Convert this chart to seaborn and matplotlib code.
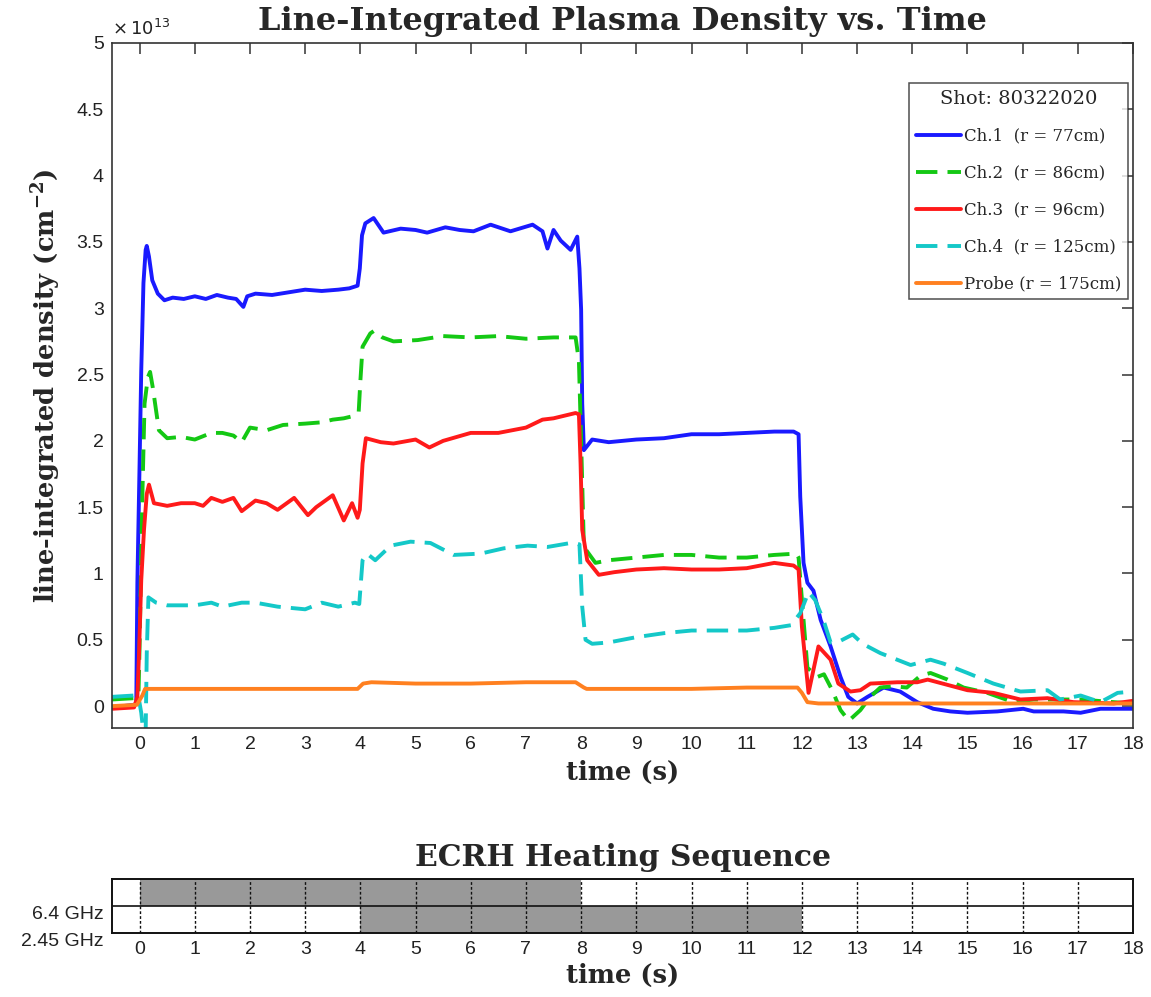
import numpy as np
import pandas as pd
import matplotlib
matplotlib.use("Agg")
import matplotlib.pyplot as plt
import seaborn as sns

# ---------------------------------------------------------------
# Interferometer / probe line-integrated density, units of 1e13 cm^-2
# ---------------------------------------------------------------
ch1_t = [-0.5, -0.1, -0.06, -0.04, 0.0, 0.03, 0.07, 0.11, 0.13, 0.17, 0.23, 0.33, 0.45, 0.6, 0.8,
         1.0, 1.2, 1.4, 1.6, 1.75, 1.88, 1.95, 2.1, 2.4, 2.7, 3.0, 3.3, 3.6, 3.8, 3.95, 3.99,
         4.03, 4.09, 4.24, 4.42, 4.73, 5.0, 5.21, 5.54, 5.8, 6.05, 6.36, 6.72, 7.12, 7.3, 7.39,
         7.5, 7.63, 7.81, 7.93, 7.97, 8.0, 8.02, 8.05, 8.2, 8.5, 9.0, 9.5, 10.0, 10.5, 11.0,
         11.5, 11.85, 11.94, 11.97, 12.03, 12.1, 12.21, 12.34, 12.52, 12.7, 12.84, 13.0, 13.19,
         13.48, 13.78, 14.09, 14.38, 14.69, 15.0, 15.54, 16.01, 16.2, 16.74, 17.05, 17.41, 18.0]
ch1_n = [-0.01, 0.01, 0.02, 0.93, 1.83, 2.53, 3.19, 3.44, 3.47, 3.39, 3.21, 3.11, 3.06, 3.08, 3.07,
         3.09, 3.07, 3.10, 3.08, 3.07, 3.01, 3.09, 3.11, 3.10, 3.12, 3.14, 3.13, 3.14, 3.15, 3.17, 3.30,
         3.55, 3.64, 3.68, 3.57, 3.60, 3.59, 3.57, 3.61, 3.59, 3.58, 3.63, 3.58, 3.63, 3.58, 3.45,
         3.59, 3.51, 3.44, 3.54, 3.30, 2.99, 2.28, 1.93, 2.01, 1.99, 2.01, 2.02, 2.05, 2.05, 2.06,
         2.07, 2.07, 2.05, 1.58, 1.08, 0.93, 0.87, 0.65, 0.45, 0.22, 0.07, 0.02, 0.07,
         0.14, 0.11, 0.03, -0.02, -0.04, -0.05, -0.04, -0.02, -0.04, -0.04, -0.05, -0.02, -0.02]

ch2_t = [-0.5, -0.1, -0.02, 0.0, 0.05, 0.09, 0.15, 0.19, 0.24, 0.35, 0.5, 0.75, 1.0, 1.3, 1.5, 1.7,
         1.85, 2.0, 2.3, 2.6, 3.0, 3.3, 3.5, 3.7, 3.9, 3.97, 4.0, 4.04, 4.18, 4.25, 4.4, 4.6, 5.04,
         5.5, 6.0, 6.5, 7.0, 7.5, 7.9, 7.96, 8.0, 8.05, 8.26, 8.5, 9.0, 9.5, 10.0, 10.5, 11.0, 11.5,
         11.9, 11.94, 12.03, 12.1, 12.28, 12.4, 12.55, 12.7, 12.85, 13.06, 13.24, 13.42, 13.66,
         13.9, 14.15, 14.33, 14.64, 14.93, 15.36, 15.83, 16.2, 16.63, 17.05, 17.65, 18.0]
ch2_n = [0.05, 0.06, 0.08, 0.45, 1.58, 2.28, 2.48, 2.52, 2.40, 2.08, 2.02, 2.03, 2.01, 2.06, 2.06, 2.04,
         1.99, 2.10, 2.08, 2.12, 2.13, 2.14, 2.16, 2.17, 2.19, 2.22, 2.45, 2.71, 2.81, 2.83, 2.78, 2.75, 2.76,
         2.79, 2.78, 2.79, 2.77, 2.78, 2.78, 2.60, 2.00, 1.20, 1.08, 1.10, 1.12, 1.14, 1.14, 1.12, 1.12, 1.14,
         1.15, 1.12, 0.65, 0.29, 0.22, 0.24, 0.12, -0.03, -0.11, -0.03, 0.07, 0.14, 0.15,
         0.14, 0.23, 0.25, 0.20, 0.14, 0.10, 0.03, 0.05, 0.05, 0.05, 0.03, 0.02]

ch3_t = [-0.5, -0.1, -0.04, -0.01, 0.03, 0.08, 0.13, 0.17, 0.26, 0.5, 0.75, 1.0, 1.15, 1.3, 1.5, 1.7,
         1.85, 2.1, 2.3, 2.5, 2.8, 3.05, 3.2, 3.5, 3.7, 3.85, 3.95, 3.99, 4.04, 4.1, 4.37, 4.6, 5.0,
         5.25, 5.5, 6.0, 6.5, 7.0, 7.3, 7.5, 7.9, 7.96, 7.99, 8.02, 8.11, 8.32, 8.6, 9.0, 9.5, 10.0,
         10.5, 11.0, 11.5, 11.85, 11.94, 12.0, 12.12, 12.3, 12.52, 12.66, 12.88, 13.06, 13.24, 13.73,
         14.09, 14.28, 14.64, 15.0, 15.47, 15.96, 16.45, 16.92, 17.65, 18.0]
ch3_n = [-0.02, -0.01, 0.07, 0.40, 0.95, 1.33, 1.60, 1.67, 1.53, 1.51, 1.53, 1.53, 1.51, 1.57, 1.54, 1.57,
         1.47, 1.55, 1.53, 1.48, 1.57, 1.44, 1.50, 1.59, 1.40, 1.53, 1.42, 1.48, 1.83, 2.02, 1.99, 1.98, 2.01,
         1.95, 2.00, 2.06, 2.06, 2.10, 2.16, 2.17, 2.21, 2.20, 1.83, 1.33, 1.10, 0.99, 1.01, 1.03, 1.04, 1.03,
         1.03, 1.04, 1.08, 1.06, 1.03, 0.60, 0.10, 0.45, 0.35, 0.17, 0.11, 0.12, 0.17, 0.18,
         0.18, 0.20, 0.16, 0.12, 0.10, 0.05, 0.06, 0.03, 0.02, 0.04]

ch4_t = [-0.5, -0.1, -0.02, 0.03, 0.07, 0.11, 0.13, 0.16, 0.3, 0.5, 1.0, 1.3, 1.5, 1.85, 2.1, 2.5,
         3.0, 3.3, 3.6, 3.9, 3.98, 4.04, 4.12, 4.27, 4.55, 4.91, 5.27, 5.69, 6.18, 6.6, 7.03, 7.39,
         7.81, 7.97, 8.02, 8.08, 8.2, 8.5, 9.0, 9.5, 10.0, 10.5, 11.0, 11.5, 11.8, 11.97, 12.12,
         12.24, 12.39, 12.52, 12.64, 12.92, 13.1, 13.42, 13.97, 14.33, 14.57, 15.0, 15.47, 15.96,
         16.45, 16.68, 17.05, 17.41, 17.72, 18.0]
ch4_n = [0.07, 0.08, 0.07, -0.05, -0.20, -0.20, 0.40, 0.82, 0.78, 0.76, 0.76, 0.78, 0.75, 0.78, 0.78, 0.75,
         0.73, 0.78, 0.75, 0.78, 0.77, 1.10, 1.15, 1.10, 1.21, 1.24, 1.23, 1.14, 1.15, 1.19, 1.21, 1.20,
         1.23, 1.22, 0.75, 0.50, 0.47, 0.48, 0.52, 0.55, 0.57, 0.57, 0.57, 0.59, 0.61, 0.70, 0.86,
         0.80, 0.65, 0.48, 0.48, 0.54, 0.47, 0.40, 0.31, 0.35, 0.32, 0.25, 0.17, 0.11,
         0.12, 0.05, 0.08, 0.03, 0.10, 0.11]

probe_t = [-0.5, -0.05, 0.05, 0.1, 0.5, 1.5, 2.5, 3.5, 3.95, 4.05, 4.2, 5.0, 6.0, 7.0, 7.9, 8.05,
           8.1, 9.0, 10.0, 11.0, 11.92, 12.0, 12.1, 12.3, 18.0]
probe_n = [0.00, 0.01, 0.08, 0.13, 0.13, 0.13, 0.13, 0.13, 0.13, 0.17, 0.18, 0.17, 0.17, 0.18, 0.18, 0.14,
           0.13, 0.13, 0.13, 0.14, 0.14, 0.10, 0.03, 0.02, 0.02]

series_labels = ["Ch.1  (r = 77cm)", "Ch.2  (r = 86cm)", "Ch.3  (r = 96cm)",
                 "Ch.4  (r = 125cm)", "Probe (r = 175cm)"]
series_colors = ["#1a1aff", "#14c814", "#ff1a1a", "#14c8c8", "#ff8020"]
series_dashed = [False, True, False, True, False]
shot_number = "80322020"

# ECRH heating windows (s)
sources = ["6.4 GHz", "2.45 GHz"]
source_on = [0, 4]
source_off = [8, 12]

time_ticks = list(range(0, 19))
density_ticks = [0, 0.5, 1, 1.5, 2, 2.5, 3, 3.5, 4, 4.5, 5]

# ---------------------------------------------------------------
sns.set_theme(style="white")
plt.rcParams["font.family"] = ["Liberation Sans", "DejaVu Sans"]
plt.rcParams["mathtext.fontset"] = "dejavuserif"

fig = plt.figure(figsize=(11.51, 9.97), dpi=100)
ax = fig.add_axes([0.0973, 0.2698, 0.8871, 0.6871])
axh = fig.add_axes([0.0973, 0.0642, 0.8871, 0.0542])

serif = "DejaVu Serif"

series = [(ch1_t, ch1_n), (ch2_t, ch2_n), (ch3_t, ch3_n), (ch4_t, ch4_n), (probe_t, probe_n)]
for (t, n), lab, col, dashed in zip(series, series_labels, series_colors, series_dashed):
    df = pd.DataFrame({"time": t, "density": n})
    sns.lineplot(data=df, x="time", y="density", ax=ax, color=col, lw=2.8,
                 estimator=None, sort=False, label=lab,
                 linestyle=(0, (5.5, 2.6)) if dashed else "-")

ax.set_xlim(-0.5, 18)
ax.set_ylim(-0.165, 5)
ax.set_xticks(time_ticks)
ax.set_yticks(density_ticks)
ax.set_yticklabels([f"{v:g}" for v in density_ticks])
ax.tick_params(direction="in", length=8, width=1.1, color="#333333",
               top=True, right=True, labelsize=14, labelcolor="#222222", pad=6)
for s in ax.spines.values():
    s.set_color("#333333")
    s.set_linewidth(1.2)

ax.text(0.0, 1.006, r"$\times\,10^{13}$", transform=ax.transAxes, fontsize=13,
        math_fontfamily="dejavusans", color="#222222", ha="left", va="bottom")

ax.set_title("Line-Integrated Plasma Density vs. Time", family=serif,
             weight="bold", fontsize=23, pad=9)
ax.set_xlabel("time (s)", family=serif, weight="bold", fontsize=18.5, labelpad=5)
ax.set_ylabel(r"line-integrated density (cm$^{\mathbf{-2}}$)", family=serif,
              weight="bold", fontsize=18.5, labelpad=10)

leg = ax.legend(loc="upper right", bbox_to_anchor=(0.9951, 0.9416), borderaxespad=0,
                frameon=True, fancybox=False, edgecolor="#222222",
                prop={"family": serif, "size": 12}, title=f"Shot: {shot_number}",
                title_fontproperties={"family": serif, "size": 14},
                handlelength=2.7, handletextpad=0.2, labelspacing=1.2,
                borderpad=0.4)
leg.get_frame().set_linewidth(1.1)

# ---------------------------------------------------------------
# Heating sequence panel
hdf = pd.DataFrame({"source": sources, "start": source_on, "stop": source_off})
hdf["row"] = [1.5, 0.5]
hdf["width"] = hdf["stop"] - hdf["start"]
axh.barh(hdf["row"], hdf["width"], left=hdf["start"], height=1.0,
         color="#999999", edgecolor="none", zorder=1)
for x in time_ticks[:-1]:
    axh.axvline(x, color="#111111", lw=1.0, ls=(0, (2, 1.5)), zorder=2)
axh.axhline(1, color="#111111", lw=1.2, zorder=2)

axh.set_xlim(-0.5, 18)
axh.set_ylim(0, 2)
axh.set_xticks(time_ticks)
axh.set_yticks([1, 0])
axh.set_yticklabels(sources)
for lab in axh.get_yticklabels():
    lab.set_verticalalignment("top")
axh.tick_params(length=0, labelsize=14, labelcolor="#222222", pad=6)
for s in axh.spines.values():
    s.set_color("#111111")
    s.set_linewidth(1.4)
    s.set_linestyle((0, (1.5, 1)))
axh.set_title("ECRH Heating Sequence", family=serif, weight="bold", fontsize=21.5, pad=9)
axh.set_xlabel("time (s)", family=serif, weight="bold", fontsize=18.5, labelpad=3)
axh.set_ylabel("")

fig.savefig("out.png", dpi=100)
